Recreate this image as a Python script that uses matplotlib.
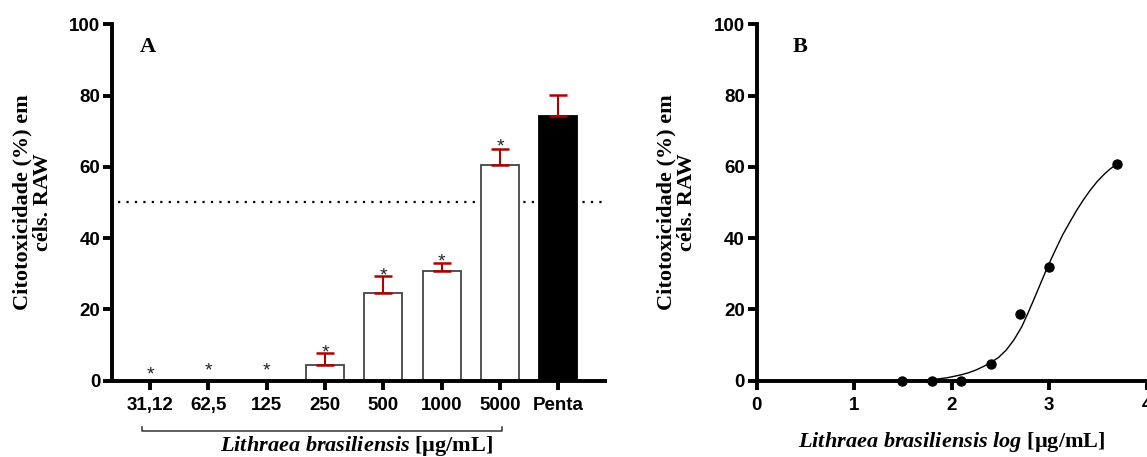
import numpy as np
import matplotlib
matplotlib.use('Agg')
import matplotlib.pyplot as plt

plt.rcParams['font.family'] = ['Liberation Sans', 'DejaVu Sans']
plt.rcParams['font.weight'] = 'bold'
plt.rcParams['mathtext.fontset'] = 'custom'
plt.rcParams['mathtext.it'] = 'Liberation Serif:italic:bold'
plt.rcParams['mathtext.rm'] = 'Liberation Serif:bold'

# ---- data: panel A (bars) ----
conc_labels = ['31,12', '62,5', '125', '250', '500', '1000', '5000', 'Penta']
cyto_mean = [0, 0, 0, 4.4, 24.6, 30.9, 60.6, 74.2]
cyto_err = [0, 0, 0, 3.3, 4.9, 2.2, 4.4, 6.1]
star_y = [3.5, 4.6, 4.6, 9.6, 31.1, 35.1, 67.5]

# ---- data: panel B (log dose-response) ----
log_conc = [1.49, 1.80, 2.10, 2.40, 2.70, 3.00, 3.70]
log_cyto = [0, 0, 0, 4.6, 18.6, 32.0, 60.7]
# fitted curve
fit_x = [1.49, 1.65, 1.80, 1.95, 2.09, 2.17, 2.25, 2.32, 2.39, 2.48, 2.56, 2.64, 2.72, 2.78,
         2.84, 2.90, 2.96, 3.02, 3.08, 3.14, 3.21, 3.28, 3.35, 3.42, 3.49, 3.56, 3.62, 3.66, 3.70]
fit_y = [0.0, 0.1, 0.3, 0.8, 1.6, 2.2, 3.0, 3.9, 4.9, 6.5, 8.6, 11.5, 15.2, 18.8,
         22.6, 26.5, 30.4, 34.1, 37.6, 41.0, 44.4, 47.7, 50.7, 53.4, 55.8, 57.8, 59.3, 60.1, 60.7]

red = '#b00000'
serif = 'Liberation Serif'

fig = plt.figure(figsize=(11.47, 4.57), dpi=100)
axA = fig.add_axes([0.0976, 0.167, 0.4299, 0.7798])
axB = fig.add_axes([0.6597, 0.167, 0.3400, 0.7798])

for ax in (axA, axB):
    for s in ('top', 'right'):
        ax.spines[s].set_visible(False)
    for s in ('left', 'bottom'):
        ax.spines[s].set_linewidth(2.8)
        ax.spines[s].set_capstyle('projecting')
    ax.tick_params(width=2.8, length=6.5, labelsize=13.5)
    ax.tick_params(axis='y', pad=2)
    ax.tick_params(axis='x', pad=5)
    ax.set_ylim(0, 100)
    ax.set_yticks([0, 20, 40, 60, 80, 100])

# ---------------- panel A ----------------
x = np.arange(len(conc_labels))
axA.set_xlim(-0.654, 7.8)
axA.axhline(50, xmin=0.012, xmax=1, color='black', lw=1.6, ls=(0, (1, 2.8)), zorder=1)
faces = ['white'] * 7 + ['black']
edges = ['#444444'] * 7 + ['black']
axA.bar(x, cyto_mean, width=0.65, color=faces, edgecolor=edges, lw=1.3, zorder=2)

idx = [i for i in range(len(cyto_err)) if cyto_err[i] > 0]
axA.errorbar(x[idx], [cyto_mean[i] for i in idx],
             yerr=[[0] * len(idx), [cyto_err[i] for i in idx]],
             fmt='none', ecolor=red, elinewidth=1.5, capsize=6.8, capthick=1.8, zorder=3)

for i, s in enumerate(star_y):
    axA.annotate('*', (i, s), xytext=(0, -8), textcoords='offset points',
                 ha='center', va='baseline', fontsize=14, fontweight='normal', color='#222222')

axA.set_xticks(x)
axA.set_xticklabels(conc_labels)

axA.plot([-0.14, -0.14, 6.04, 6.04], [-13.1, -14.0, -14.0, -13.1], color='#333333',
         lw=1.1, clip_on=False)
axA.text(3.54, -18.2, r'$\mathit{Lithraea\ brasiliensis}$ [µg/mL]', ha='center', va='center',
         fontsize=16, family=serif, weight='bold', clip_on=False)
axA.text(-0.03, 93.5, 'A', ha='center', va='center', fontsize=16, family=serif, weight='bold')

# ---------------- panel B ----------------
axB.set_xlim(0, 4)
axB.set_xticks([0, 1, 2, 3, 4])
axB.plot(fit_x, fit_y, color='black', lw=1.0, zorder=2)
axB.plot(log_conc, log_cyto, 'o', color='black', ms=6.5, zorder=3, clip_on=False)
axB.text(2.0, -17.1, r'$\mathit{Lithraea\ brasiliensis\ log}$ [µg/mL]', ha='center', va='center',
         fontsize=16, family=serif, weight='bold', clip_on=False)
axB.text(0.44, 93.5, 'B', ha='center', va='center', fontsize=16, family=serif, weight='bold')

ylab = 'Citotoxicidade (%) em\ncéls. RAW'
fig.text(33 / 1147, 0.558, ylab, rotation=90, ha='center', va='center', multialignment='center',
         fontsize=16, family=serif, weight='bold', linespacing=1.05)
fig.text(677 / 1147, 0.558, ylab, rotation=90, ha='center', va='center', multialignment='center',
         fontsize=16, family=serif, weight='bold', linespacing=1.05)

fig.savefig('out.png', dpi=100)
